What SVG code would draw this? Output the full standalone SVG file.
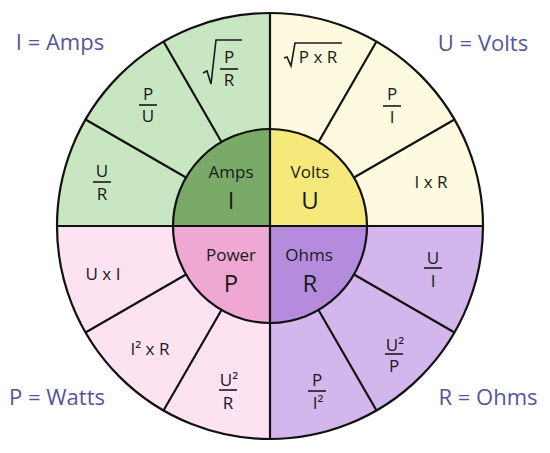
<svg xmlns="http://www.w3.org/2000/svg" width="550" height="453" viewBox="0 0 550 453">
<style>
text{font-family:"Open Sans","Noto Sans","Liberation Sans",sans-serif;fill:#1a1a1a;text-anchor:middle}
.f{font-size:17px}
.in{font-size:17px}
.big{font-size:24px}
.corner{font-size:22px;fill:#55559a}
.bar{stroke:#1a1a1a;stroke-width:1.6}
.rad{fill:none;stroke:#1a1a1a;stroke-width:1.6;stroke-linejoin:miter}
.edge{stroke:#111;stroke-width:2.2;fill:none}
.g1{fill:#c7e6c1}.g2{fill:#7aaa67}
.y1{fill:#fefae0}.y2{fill:#f6e97c}
.p1{fill:#fde2f2}.p2{fill:#eea8d3}
.v1{fill:#d3b6eb}.v2{fill:#b58bde}
</style>
<rect width="550" height="453" fill="#fff"/>

<g id="label-amps"><text class="corner" x="60" y="50">I = Amps</text></g>
<g id="label-volts"><text class="corner" x="483" y="51">U = Volts</text></g>
<g id="label-watts"><text class="corner" x="57" y="405">P = Watts</text></g>
<g id="label-ohms"><text class="corner" x="488" y="405">R = Ohms</text></g>

<!-- Amps outer sectors -->
<g id="amps-sqrt">
<path class="g1" d="M163.5,41.5 A213,213 0 0 1 270,13 L270,129 A97,97 0 0 0 221.5,142 Z"/>
<path class="rad" d="M203,73 L207,71 L211,84 L216,40 L242,40"/>
<text class="f" x="229" y="63">P</text>
<line class="bar" x1="220" y1="69" x2="238" y2="69"/>
<text class="f" x="229" y="86">R</text>
</g>
<g id="amps-pu">
<path class="g1" d="M85.5,119.5 A213,213 0 0 1 163.5,41.5 L221.5,142 A97,97 0 0 0 186,177.5 Z"/>
<text class="f" x="148" y="100">P</text>
<line class="bar" x1="139" y1="105" x2="157" y2="105"/>
<text class="f" x="148" y="122">U</text>
</g>
<g id="amps-ur">
<path class="g1" d="M57,226 A213,213 0 0 1 85.5,119.5 L186,177.5 A97,97 0 0 0 173,226 Z"/>
<text class="f" x="102" y="177">U</text>
<line class="bar" x1="93" y1="182" x2="111" y2="182"/>
<text class="f" x="102" y="200">R</text>
</g>

<!-- Volts outer sectors -->
<g id="volts-sqrt">
<path class="y1" d="M270,13 A213,213 0 0 1 376.5,41.5 L318.5,142 A97,97 0 0 0 270,129 Z"/>
<path class="rad" d="M284,58 L287,57 L291,66 L295,43 L342,43"/>
<text class="f" x="318" y="63">P x R</text>
</g>
<g id="volts-pi">
<path class="y1" d="M376.5,41.5 A213,213 0 0 1 454.5,119.5 L354,177.5 A97,97 0 0 0 318.5,142 Z"/>
<text class="f" x="392" y="100">P</text>
<line class="bar" x1="383" y1="106" x2="401" y2="106"/>
<text class="f" x="392" y="123">I</text>
</g>
<g id="volts-ixr">
<path class="y1" d="M454.5,119.5 A213,213 0 0 1 483,226 L367,226 A97,97 0 0 0 354,177.5 Z"/>
<text class="f" x="431" y="188">I x R</text>
</g>

<!-- Ohms outer sectors -->
<g id="ohms-ui">
<path class="v1" d="M483,226 A213,213 0 0 1 454.5,332.5 L354,274.5 A97,97 0 0 0 367,226 Z"/>
<text class="f" x="433" y="264">U</text>
<line class="bar" x1="424" y1="268" x2="442" y2="268"/>
<text class="f" x="433" y="287">I</text>
</g>
<g id="ohms-u2p">
<path class="v1" d="M454.5,332.5 A213,213 0 0 1 376.5,410.5 L318.5,310 A97,97 0 0 0 354,274.5 Z"/>
<text class="f" x="395" y="351">U²</text>
<line class="bar" x1="385" y1="354" x2="403" y2="354"/>
<text class="f" x="394" y="372">P</text>
</g>
<g id="ohms-pi2">
<path class="v1" d="M376.5,410.5 A213,213 0 0 1 270,439 L270,323 A97,97 0 0 0 318.5,310 Z"/>
<text class="f" x="317" y="386">P</text>
<line class="bar" x1="308" y1="391" x2="326" y2="391"/>
<text class="f" x="318" y="409">I²</text>
</g>

<!-- Power outer sectors -->
<g id="power-u2r">
<path class="p1" d="M270,439 A213,213 0 0 1 163.5,410.5 L221.5,310 A97,97 0 0 0 270,323 Z"/>
<text class="f" x="229" y="386">U²</text>
<line class="bar" x1="219" y1="390" x2="237" y2="390"/>
<text class="f" x="228" y="409">R</text>
</g>
<g id="power-i2r">
<path class="p1" d="M163.5,410.5 A213,213 0 0 1 85.5,332.5 L186,274.5 A97,97 0 0 0 221.5,310 Z"/>
<text class="f" x="150" y="355">I² x R</text>
</g>
<g id="power-uxi">
<path class="p1" d="M85.5,332.5 A213,213 0 0 1 57,226 L173,226 A97,97 0 0 0 186,274.5 Z"/>
<text class="f" x="103" y="280">U x I</text>
</g>

<!-- Inner quadrants -->
<g id="amps">
<path class="g2" d="M270,226 L173,226 A97,97 0 0 1 270,129 Z"/>
<text class="in" x="231" y="178">Amps</text>
<text class="big" x="231" y="209">I</text>
</g>
<g id="volts">
<path class="y2" d="M270,226 L270,129 A97,97 0 0 1 367,226 Z"/>
<text class="in" x="310" y="178">Volts</text>
<text class="big" x="310" y="209">U</text>
</g>
<g id="ohms">
<path class="v2" d="M270,226 L367,226 A97,97 0 0 1 270,323 Z"/>
<text class="in" x="309" y="261">Ohms</text>
<text class="big" x="310" y="292">R</text>
</g>
<g id="power">
<path class="p2" d="M270,226 L270,323 A97,97 0 0 1 173,226 Z"/>
<text class="in" x="231" y="261">Power</text>
<text class="big" x="231" y="292">P</text>
</g>

<g id="connectors" class="edge">
<line x1="57" y1="226" x2="483" y2="226"/>
<line x1="270" y1="13" x2="270" y2="439"/>
<line x1="163.5" y1="41.5" x2="221.5" y2="142"/>
<line x1="85.5" y1="119.5" x2="186" y2="177.5"/>
<line x1="376.5" y1="41.5" x2="318.5" y2="142"/>
<line x1="454.5" y1="119.5" x2="354" y2="177.5"/>
<line x1="454.5" y1="332.5" x2="354" y2="274.5"/>
<line x1="376.5" y1="410.5" x2="318.5" y2="310"/>
<line x1="163.5" y1="410.5" x2="221.5" y2="310"/>
<line x1="85.5" y1="332.5" x2="186" y2="274.5"/>
<circle cx="270" cy="226" r="97"/>
<circle cx="270" cy="226" r="213"/>
</g>
</svg>
